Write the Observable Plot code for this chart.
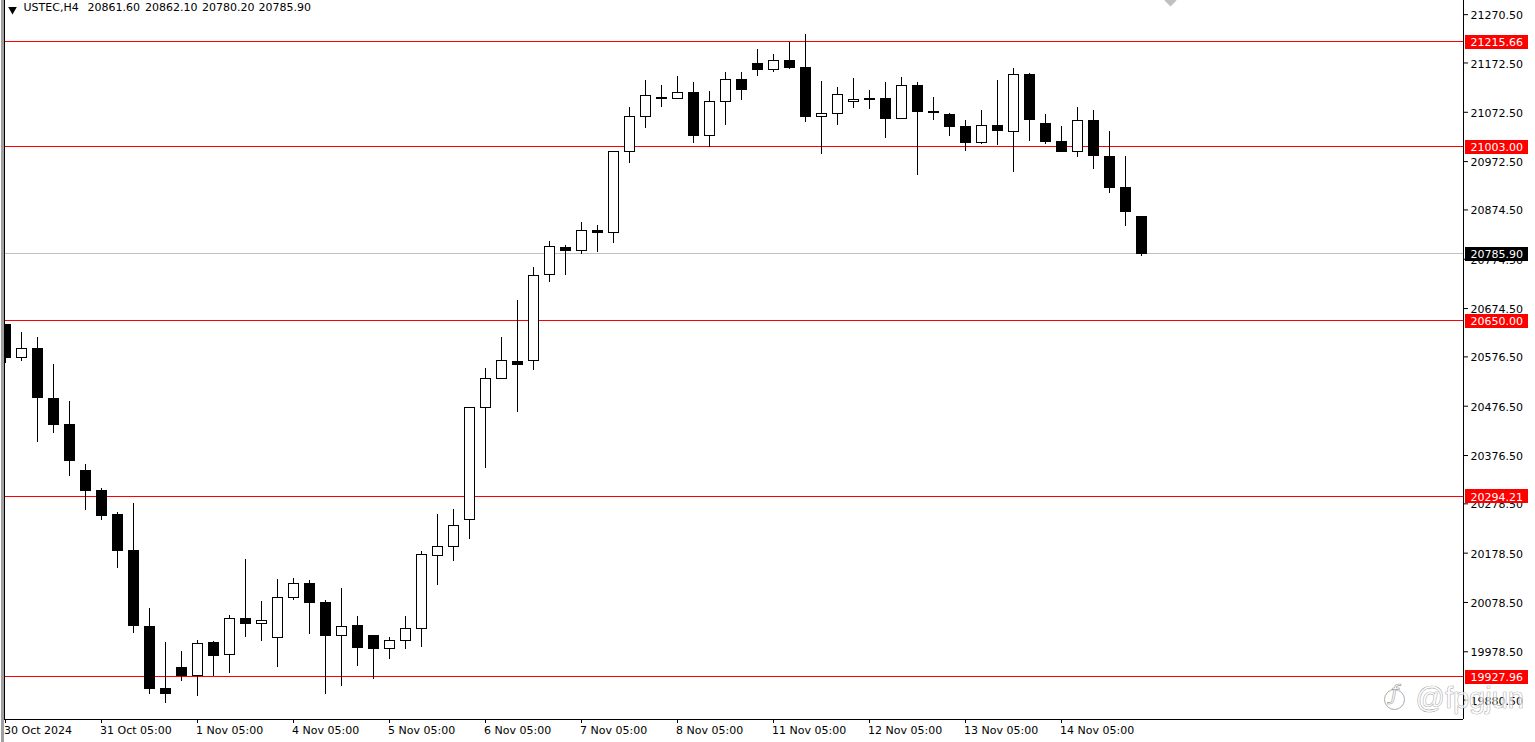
<!DOCTYPE html>
<html>
<head>
<meta charset="utf-8">
<style>html,body{margin:0;padding:0;background:#fff;overflow:hidden}</style>
<script src="https://cdn.jsdelivr.net/npm/d3@7"></script>
<script src="https://cdn.jsdelivr.net/npm/@observablehq/plot@0.6"></script>
</head>
<body>
<script>
const opens = [20641.8,20574.9,20593.1,20491.7,20439.0,20345.7,20305.1,20256.5,20183.5,20029.4,19903.6,19946.2,19930.0,19996.9,19972.6,20045.6,20035.4,20007.1,20088.2,20116.6,20078.0,20011.1,20031.4,20011.1,19984.7,20001.0,20025.3,20173.3,20191.6,20246.3,20473.5,20532.3,20566.7,20568.8,20743.2,20797.9,20791.8,20832.4,20828.3,20992.6,21063.6,21102.1,21100.1,21112.2,21025.0,21094.0,21138.6,21171.0,21158.9,21177.1,21162.9,21063.6,21069.7,21094.0,21100.1,21100.1,21059.5,21126.4,21073.7,21067.6,21043.3,21010.8,21045.3,21033.2,21148.7,21049.4,21012.9,20992.6,21055.5,20982.5,20919.6,20861.6];
const highs = [20641.8,20625.5,20615.4,20560.7,20485.6,20357.9,20309.2,20260.5,20278.8,20065.9,19996.9,19978.7,20001.0,19998.9,20051.7,20165.2,20080.1,20124.7,20126.7,20122.6,20082.1,20106.4,20049.6,20011.1,20007.1,20049.6,20181.4,20256.5,20266.6,20473.5,20552.5,20615.4,20690.4,20757.4,20810.1,20802.0,20848.6,20842.5,20992.6,21081.8,21136.6,21126.4,21144.7,21132.5,21114.3,21152.8,21152.8,21199.4,21189.3,21213.6,21229.9,21134.5,21122.4,21140.6,21116.3,21132.5,21142.7,21132.5,21102.1,21069.7,21055.5,21075.7,21136.6,21160.9,21150.8,21067.6,21043.3,21081.8,21075.7,21033.2,20982.5,20862.1];
const lows = [20562.7,20566.7,20402.5,20420.7,20333.5,20264.6,20244.3,20147.0,20015.2,19891.5,19873.2,19917.8,19887.4,19928.0,19934.0,20007.1,19998.9,19946.2,20082.1,20013.1,19891.5,19907.7,19948.2,19921.9,19962.4,19982.7,19986.8,20112.5,20161.2,20205.8,20349.8,20530.2,20463.3,20548.5,20726.9,20741.1,20783.7,20787.8,20806.0,20968.3,21039.2,21081.8,21098.0,21008.8,21000.7,21045.3,21096.0,21144.7,21152.8,21158.9,21051.4,20986.5,21045.3,21079.8,21077.8,21019.0,21057.5,20943.9,21055.5,21023.0,20992.6,21006.8,21004.8,20950.0,21012.9,21006.8,20990.6,20980.4,20956.1,20907.4,20840.5,20780.2];
const closes = [20574.9,20593.1,20493.7,20439.0,20366.0,20305.1,20254.4,20183.5,20031.4,19903.6,19893.5,19930.0,19994.9,19970.6,20045.6,20035.4,20041.5,20088.2,20116.6,20078.0,20011.1,20029.4,19986.8,19984.7,20001.0,20025.3,20175.4,20191.6,20234.2,20473.5,20532.3,20568.8,20560.7,20741.1,20799.9,20791.8,20832.4,20828.3,20992.6,21063.6,21106.2,21100.1,21112.2,21025.0,21094.0,21138.6,21118.3,21158.9,21177.1,21162.9,21063.6,21069.7,21108.2,21098.0,21098.0,21059.5,21126.4,21073.7,21071.7,21043.3,21010.8,21045.3,21035.2,21148.7,21057.5,21012.9,20992.6,21055.5,20984.5,20919.6,20870.9,20785.9];

const levels = [21215.66, 21003.00, 20650.00, 20294.21, 19927.96];
const lastPrice = [20785.90];
const yTicks = [21270.5,21172.5,21072.5,20972.5,20874.5,20774.5,20674.5,20576.5,20476.5,20376.5,20278.5,20178.5,20078.5,19978.5,19880.5];
const xTickIndex = [0,6,12,18,24,30,36,42,48,54,60,66];
const xTickLabels = ["30 Oct 2024","31 Oct 05:00","1 Nov 05:00","4 Nov 05:00","5 Nov 05:00","6 Nov 05:00","7 Nov 05:00","8 Nov 05:00","11 Nov 05:00","12 Nov 05:00","13 Nov 05:00","14 Nov 05:00"];
const headerParts = ["USTEC,H4", "20861.60", "20862.10", "20780.20", "20785.90"];
const headerOffsets = [18, 82, 139.5, 196.5, 253];
const watermark = "@fpgjun";

const yTop = 21299.2, yBottom = 19841.16, xMax = 91.125;
const bars = closes.map((c, i) => ({i, open: opens[i], high: highs[i], low: lows[i], close: c, up: c >= opens[i]}));
const fmt = d3.format(".2f");
const halfBody = 5 / 16;
const font = "DejaVu Sans";
const one = [0];

const chart = Plot.plot({
  width: 1535,
  height: 742,
  marginLeft: 5,
  marginRight: 72,
  marginTop: 0,
  marginBottom: 23,
  style: {background: "#fff", fontFamily: font, fontSize: "11px", color: "#000", overflow: "visible"},
  x: {type: "linear", domain: [0, xMax], axis: null},
  y: {type: "linear", domain: [yBottom, yTop], axis: null},
  marks: [
    // left window band and frame
    Plot.ruleX([-3 / 16], {stroke: "#a0a0a0", strokeWidth: 2, insetBottom: -23, shapeRendering: "crispEdges"}),
    Plot.ruleX([-1 / 16], {stroke: "#000", strokeWidth: 1, shapeRendering: "crispEdges"}),
    Plot.ruleX([xMax], {stroke: "#000", strokeWidth: 1, shapeRendering: "crispEdges"}),
    Plot.ruleY([yBottom], {stroke: "#000", strokeWidth: 1, insetLeft: -1, shapeRendering: "crispEdges"}),

    // axes: tick marks and tick labels are separate so the labels can be nudged alone
    Plot.axisY(yTicks, {anchor: "right", tickSize: 4, text: null, label: null, stroke: "#000"}),
    Plot.axisY(yTicks, {anchor: "right", tickSize: 0, tickPadding: 7, dy: 1, tickFormat: fmt, label: null, fill: "#000", fontSize: 11}),
    Plot.axisX(xTickIndex, {anchor: "bottom", tickSize: 4, text: null, label: null, stroke: "#000"}),
    Plot.axisX(xTickIndex, {anchor: "bottom", tickSize: 0, tickPadding: 7, dx: -1.5, textAnchor: "start", tickFormat: (d) => xTickLabels[xTickIndex.indexOf(d)], label: null, fill: "#000", fontSize: 11}),

    // horizontal levels
    Plot.ruleY(lastPrice, {stroke: "#c0c0c0", strokeWidth: 1, shapeRendering: "crispEdges"}),
    Plot.ruleY(levels, {stroke: "#ff0000", strokeWidth: 1, shapeRendering: "crispEdges"}),

    // candles
    Plot.ruleX(bars, {x: "i", y1: "low", y2: "high", stroke: "#000", strokeWidth: 1, clip: true, shapeRendering: "crispEdges"}),
    Plot.rect(bars, {
      x1: (d) => d.i - halfBody,
      x2: (d) => d.i + halfBody,
      y1: "open",
      y2: "close",
      fill: (d) => (d.up ? "#fff" : "#000"),
      stroke: "#000",
      strokeWidth: 1,
      dx: 0.5,
      dy: 0.5,
      clip: true,
      shapeRendering: "crispEdges"
    }),

    // price tags
    Plot.ruleY(levels, {stroke: "#ff0000", strokeWidth: 14, insetLeft: 1460, insetRight: -65, shapeRendering: "crispEdges"}),
    Plot.ruleY(lastPrice, {stroke: "#000", strokeWidth: 14, insetLeft: 1460, insetRight: -65, shapeRendering: "crispEdges"}),
    Plot.text(levels, {y: (d) => d, frameAnchor: "right", dx: 7, dy: 1, textAnchor: "start", text: fmt, fill: "#fff", fontSize: 11, fontVariant: "tabular-nums"}),
    Plot.text(lastPrice, {y: (d) => d, frameAnchor: "right", dx: 7, dy: 1, textAnchor: "start", text: fmt, fill: "#fff", fontSize: 11, fontVariant: "tabular-nums"}),

    // header
    Plot.dot(one, {frameAnchor: "top-left", dx: 7, dy: 9, symbol: "triangle", rotate: 180, r: 3.2, fill: "#000", stroke: "none"}),
    ...headerParts.map((t, k) => Plot.text([t], {frameAnchor: "top-left", dx: headerOffsets[k], dy: 3, textAnchor: "start", lineAnchor: "top", fill: "#000", fontSize: 11})),

    // top marker
    Plot.dot(one, {frameAnchor: "top", dx: 436, dy: 0, symbol: "square", rotate: 45, r: 4.8, fill: "#c0c0c0", stroke: "none"}),

    // watermark
    Plot.dot(one, {frameAnchor: "bottom-right", dx: -69, dy: -20, r: 10, fill: "none", stroke: "#aaa", strokeWidth: 1}),
    Plot.text(["ƒ"], {frameAnchor: "bottom-right", dx: -69, dy: -20, textAnchor: "middle", fill: "none", stroke: "#999", strokeWidth: 0.6, fontSize: 22, fontStyle: "italic"}),
    Plot.text([watermark], {frameAnchor: "bottom-right", dx: -48, dy: -12, textAnchor: "start", fill: "rgba(255,255,255,0.7)", stroke: "#999", strokeWidth: 0.7, fontSize: 29, fontFamily: "Liberation Sans"})
  ]
});
document.body.appendChild(chart);
</script>
</body>
</html>
